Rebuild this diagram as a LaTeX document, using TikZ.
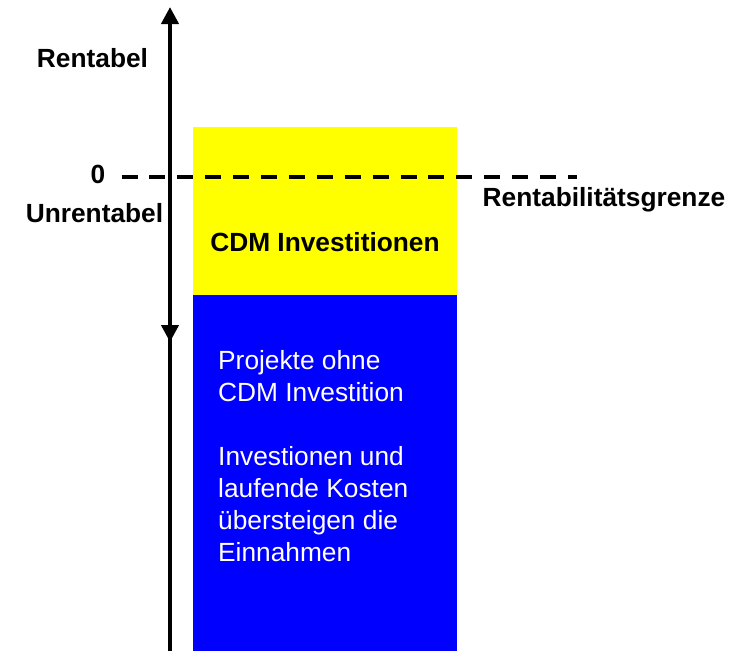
\documentclass[tikz,border=0pt]{standalone}
\usepackage{fontspec}
\setmainfont{Liberation Sans}
\usetikzlibrary{arrows.meta}
\definecolor{cdmyellow}{RGB}{255,255,0}
\definecolor{lossblue}{RGB}{0,0,255}

\begin{document}
\begin{tikzpicture}[x=1pt,y=-1pt,
  lbl/.style={font=\fontsize{26.3}{32}\selectfont\bfseries,anchor=base,inner sep=0pt},
  bar/.style={minimum width=264pt,inner sep=0pt,anchor=north west},
  axis/.style={line width=4pt,-{Triangle[width=17pt,length=17pt]}}]
\useasboundingbox (0,0) rectangle (739,651);
% boxes
\node (invest) [bar,fill=cdmyellow,minimum height=168pt] at (193,127) {};
\node (loss)   [bar,fill=lossblue,minimum height=356pt]  at (193,295) {};
% axis
\coordinate (bottom) at (170,651);
\coordinate (top)    at (170,7);
\coordinate (zero)   at (170,177);
\coordinate (down)   at (170,342);
\coordinate (dashL)  at (121.5,177);
\coordinate (dashR)  at (577,177);
\draw [axis] (bottom) -- (top);
\draw [axis] (zero) -- (down);
\draw [line width=3.5pt,dash pattern=on 16pt off 11.9pt] (dashL) -- (dashR);
% labels
\node (rent)   [lbl] at (92.5,67)  {Rentabel};
\node (null)   [lbl] at (98,183)   {0};
\node (unrent) [lbl] at (94.5,222) {Unrentabel};
\node (grenze) [lbl] at (604,206)  {Rentabilitätsgrenze};
\node (cdm)    [lbl] at (325,251)  {CDM Investitionen};
\node (ohne) [anchor=north west,inner sep=0pt,align=left,text=white,
  font=\fontsize{26.3}{32}\selectfont] at (218,350)
  {Projekte ohne\\CDM Investition\\[32pt]Investionen und\\laufende Kosten\\übersteigen die\\Einnahmen};
\end{tikzpicture}
\end{document}
